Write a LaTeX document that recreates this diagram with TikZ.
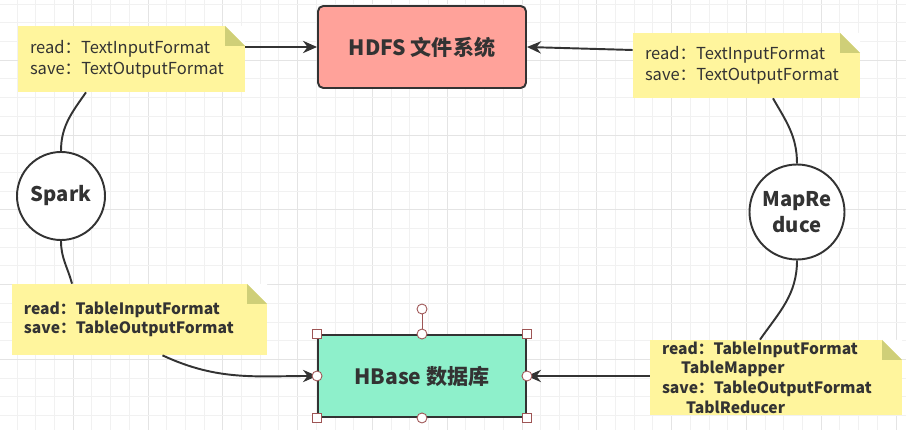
\documentclass[tikz,border=0pt]{standalone}
\usepackage{fontspec}
\setmainfont{Noto Sans CJK SC}
\usetikzlibrary{arrows.meta, positioning}
\definecolor{hdfsred}{HTML}{FFA29A}
\definecolor{hbasegreen}{HTML}{8EF0CB}
\definecolor{noteyellow}{HTML}{FFF59D}
\definecolor{notefold}{HTML}{CFCF78}
\definecolor{inkgray}{HTML}{333333}
\definecolor{handlered}{HTML}{9E5555}
\definecolor{gridminor}{HTML}{F1F1F1}
\definecolor{gridmajor}{HTML}{E4E4E4}

\begin{document}
\begin{tikzpicture}[
    store/.style  = {
      rectangle, draw=inkgray, line width=1.1pt,
      minimum width=4.16cm, minimum height=1.64cm,
      font=\fontsize{12}{14}\selectfont\bfseries, text=inkgray
    },
    engine/.style = {
      circle, draw=inkgray, line width=1.1pt, fill=white,
      inner sep=0pt, align=center, text=inkgray,
      font=\fontsize{11.5}{15}\selectfont\bfseries
    },
    note/.style   = {
      rectangle, fill=noteyellow, inner xsep=0.24cm, inner ysep=0pt,
      text width=#1, align=left, text=inkgray,
      path picture={
        \fill[white] ([xshift=-0.4cm]path picture bounding box.north east)
          -- (path picture bounding box.north east)
          -- ([yshift=-0.4cm]path picture bounding box.north east) -- cycle;
        \fill[notefold] ([xshift=-0.4cm]path picture bounding box.north east)
          -- ([yshift=-0.4cm]path picture bounding box.north east)
          -- ([shift={(-0.4cm,-0.4cm)}]path picture bounding box.north east) -- cycle;
      }
    },
    plain/.style  = {font=\fontsize{9.4}{12}\selectfont},
    heavy/.style  = {font=\fontsize{8.9}{11.2}\selectfont\bfseries},
    link/.style   = {draw=inkgray, line width=1.1pt},
    arrow/.style  = {link, -{Stealth[length=8pt, width=7pt]}},
    handlesq/.style = {rectangle, draw=handlered, fill=white, line width=0.5pt,
      minimum size=0.17cm, inner sep=0pt},
    handleci/.style = {circle, draw=handlered, fill=white, line width=0.5pt,
      minimum size=0.2cm, inner sep=0pt}
  ]

  \useasboundingbox (0,0) rectangle (18.12,8.6);

  % Grid
  \foreach \i in {0,...,47}{
    \pgfmathtruncatemacro{\m}{mod(\i,4)}
    \ifnum\m=3 \def\gc{gridmajor}\else\def\gc{gridminor}\fi
    \draw[\gc, line width=0.5pt] ({0.342+0.374*\i},0) -- ++(0,8.6);
  }
  \foreach \j in {0,...,22}{
    \pgfmathtruncatemacro{\m}{mod(\j,4)}
    \ifnum\m=3 \def\gc{gridmajor}\else\def\gc{gridminor}\fi
    \draw[\gc, line width=0.5pt] (0,{8.518-0.374*\j}) -- ++(18.12,0);
  }

  % Stores
  \node[store, fill=hdfsred, rounded corners=3pt] at (8.44, 7.66) (hdfs)  {HDFS 文件系统};
  \node[store, fill=hbasegreen, text=black!80]    at (8.44, 1.08) (hbase) {HBase 数据库};

  % Engines
  \node[engine, minimum size=1.76cm] at (1.22, 4.68)  (spark)  {Spark};
  \node[engine, minimum size=1.90cm] at (15.94, 4.36) (mapred) {MapRe\\duce};

  % Notes
  \node[note=4.06cm, plain, minimum height=1.32cm] at (2.63, 7.42)  (sparktext)
    {read：TextInputFormat\\save：TextOutputFormat};
  \node[note=4.06cm, plain, minimum height=1.30cm] at (14.93, 7.29) (mrtext)
    {read：TextInputFormat\\save：TextOutputFormat};
  \node[note=4.62cm, heavy, minimum height=1.42cm] at (2.79, 2.21)  (sparktable)
    {read：TableInputFormat\\save：TableOutputFormat};
  \node[note=4.56cm, heavy, minimum height=1.50cm] at (15.52, 1.05) (mrtable)
    {read：TableInputFormat\\\hspace*{0.38cm}TableMapper\\save：TableOutputFormat\\\hspace*{0.48cm}TablReducer};

  % Spark path
  \draw[link]  (spark.north) to[out=90, in=235] ([xshift=-0.91cm]sparktext.south);
  \draw[arrow] (hdfs.west -| sparktext.east) -- (hdfs.west);
  \draw[link]  (spark.south) to[out=-90, in=105] ([xshift=-1.35cm]sparktable.north);
  \draw[arrow] ([xshift=0.46cm]sparktable.south) to[out=-25, in=180] (hbase.west);

  % MapReduce path
  \draw[link]  ([xshift=0.53cm]mrtext.south) to[out=-60, in=90] (mapred.north);
  \draw[arrow] ([yshift=-0.06cm]hdfs.east -| mrtext.west) -- (hdfs.east);
  \draw[link]  (mapred.south) to[out=-90, in=55] ([xshift=-0.32cm]mrtable.north);
  \draw[arrow] (hbase.east -| mrtable.west) -- (hbase.east);

  % Selection handles
  \node[handleci] at ([yshift=0.5cm]hbase.north) (rot) {};
  \draw[handlered, line width=0.5pt] (rot) -- (hbase.north);
  \foreach \a/\n in {north west/nw, north east/ne, south west/sw, south east/se}
    \node[handlesq] at (hbase.\a) (h\n) {};
  \foreach \a/\n in {north/n, south/s, west/w, east/e}
    \node[handleci] at (hbase.\a) (h\n) {};
\end{tikzpicture}
\end{document}
